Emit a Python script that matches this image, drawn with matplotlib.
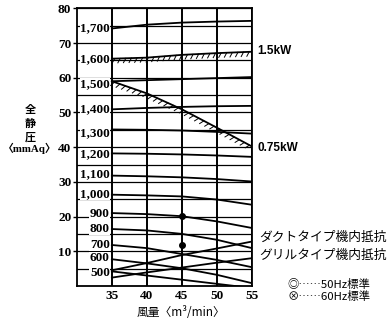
import matplotlib
matplotlib.use("Agg")
import matplotlib.pyplot as plt
import matplotlib.patheffects as pe

plt.rcParams['font.family'] = ['Liberation Serif', 'Noto Sans CJK JP', 'DejaVu Sans']

# 風量 (m3/min)
flow = [35, 40, 45, 50, 55]

# 回転数ごとの曲線 (mmAq)
rpm_1700 = [74.2, 75.3, 75.9, 76.2, 76.4]
rpm_1600 = [65.5, 65.8, 66.6, 67.1, 67.5]
rpm_1500 = [59.0, 59.3, 59.6, 59.9, 60.2]
rpm_1400 = [50.9, 51.3, 51.6, 51.8, 51.9]
rpm_1300 = [45.1, 45.0, 44.8, 44.4, 43.9]
rpm_1200 = [38.2, 38.1, 37.9, 37.6, 37.2]
rpm_1100 = [31.8, 31.6, 31.3, 30.8, 30.1]
rpm_1000 = [26.3, 26.1, 25.8, 24.9, 23.4]
rpm_900 = [21.0, 20.7, 20.1, 18.6, 16.7]
rpm_800 = [16.4, 16.0, 15.0, 13.3, 10.9]
rpm_700 = [11.8, 10.9, 9.2, 7.5, 5.4]
rpm_600 = [7.7, 6.5, 5.1, 3.2, 0.8]
rpm_500 = [4.2, 3.0, 1.8, 0.6, -0.6]

rpm_labels = ['1,700', '1,600', '1,500', '1,400', '1,300', '1,200', '1,100',
              '1,000', '900', '800', '700', '600', '500']
label_y = [74.2, 65.5, 58.1, 50.9, 44.1, 37.9, 32.1, 26.5, 20.8, 16.5, 11.8, 8.0, 3.8]

# 動力限界線
kw_15 = rpm_1600
kw_075 = [59.0, 55.5, 50.9, 45.6, 40.2]

# 機内抵抗
duct_res = [4.5, 6.6, 8.9, 10.8, 12.8]
grill_res = [2.4, 3.9, 5.3, 6.7, 8.0]

# 標準点
std_x = [45, 45]
std_y = [20.2, 11.8]

curves = [rpm_1700, rpm_1500, rpm_1400, rpm_1300, rpm_1200, rpm_1100,
          rpm_1000, rpm_900, rpm_800, rpm_700, rpm_600, rpm_500]

fig = plt.figure(figsize=(3.9, 3.22), dpi=100)
ax = fig.add_axes([0.197, 0.112, 0.449, 0.862])

ax.set_xlim(30, 55)
ax.set_ylim(0, 80)
ax.set_xticks([35, 40, 45, 50, 55])
ax.set_yticks(range(10, 81, 10))
ax.set_yticks(range(5, 80, 10), minor=True)
ax.grid(axis='y', which='both', color='k', lw=0.9, zorder=1)
ax.grid(axis='x', which='major', color='k', lw=1.4, zorder=1)
ax.set_axisbelow(True)
ax.tick_params(axis='y', which='major', length=3, width=1, pad=1, labelsize=9.5)
ax.tick_params(axis='y', which='minor', length=0)
ax.tick_params(axis='x', length=0, pad=3, labelsize=9.5)
for t in ax.get_xticklabels() + ax.get_yticklabels():
    t.set_fontweight('bold')
for s in ax.spines.values():
    s.set_linewidth(1.3)

for c in curves:
    ax.plot(flow, c, color='k', lw=1.3, zorder=3)

hatch = [pe.withTickedStroke(angle=-120, spacing=4, length=0.9, linewidth=0.7)]
ax.plot(flow, kw_15, color='k', lw=1.3, path_effects=hatch, zorder=3)
ax.plot(flow, kw_075, color='k', lw=1.3, path_effects=hatch, zorder=3)

ax.plot(flow, duct_res, color='k', lw=1.3, zorder=3)
ax.plot(flow, grill_res, color='k', lw=1.3, zorder=3)

ax.plot(std_x, std_y, 'o', color='k', ms=4, zorder=4)

for lab, y in zip(rpm_labels, label_y):
    ax.text(34.7, y, lab, ha='right', va='center', fontsize=9.5, fontweight='bold',
            zorder=5, bbox=dict(facecolor='white', edgecolor='none', pad=0.3))

ax.text(55.8, 67.6, '1.5kW', fontfamily='Liberation Sans', fontweight='bold',
        fontsize=8.5, va='center', clip_on=False)
ax.text(55.8, 39.9, '0.75kW', fontfamily='Liberation Sans', fontweight='bold',
        fontsize=8.5, va='center', clip_on=False)

cjk = ['Noto Sans CJK JP', 'DejaVu Sans']
ax.text(56.0, 13.9, 'ダクトタイプ機内抵抗', family=cjk, fontsize=9.2, va='center', clip_on=False)
ax.text(56.0, 8.7, 'グリルタイプ機内抵抗', family=cjk, fontsize=9.2, va='center', clip_on=False)
fig.text(0.738, 0.116, '◎……50Hz標準', family=cjk, fontsize=8.2, va='center')
fig.text(0.738, 0.078, '⊗……60Hz標準', family=cjk, fontsize=8.2, va='center')

fig.text(0.465, 0.028, '風量〈m³/min〉', family=cjk, fontsize=8.5, ha='center', va='center')
fig.text(0.077, 0.618, '全\n静\n圧', family=cjk, fontsize=8, ha='center', va='center',
         linespacing=1.1, fontweight='bold')
fig.text(0.076, 0.538, '〈mmAq〉', family=['Liberation Serif', 'Noto Sans CJK JP'],
         fontsize=7.8, ha='center', va='center', fontweight='bold')

fig.savefig('out.png', dpi=100)
